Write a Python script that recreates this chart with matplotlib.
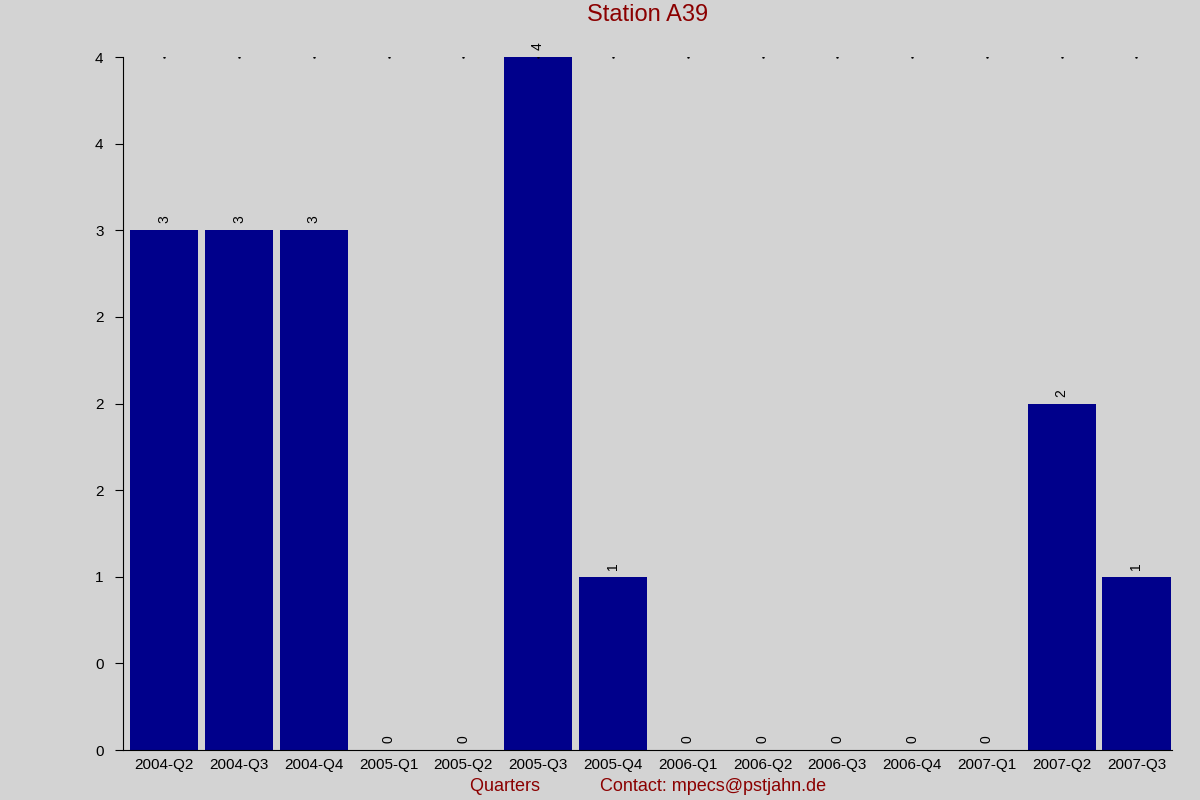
import matplotlib
matplotlib.use("Agg")
import matplotlib.pyplot as plt

categories = ["2004-Q2","2004-Q3","2004-Q4","2005-Q1","2005-Q2","2005-Q3","2005-Q4",
              "2006-Q1","2006-Q2","2006-Q3","2006-Q4","2007-Q1","2007-Q2","2007-Q3"]
values = [3,3,3,0,0,4,1,0,0,0,0,0,2,1]

plt.rcParams['font.family'] = ['Liberation Sans', 'DejaVu Sans']
bg = '#d3d3d3'
fig = plt.figure(figsize=(12, 8), dpi=100, facecolor=bg)
ax = fig.add_axes([0.1025, 0.0625, 0.8745, 0.866], facecolor=bg)
x = list(range(len(categories)))
ax.bar(x, values, width=0.91, color='#00008B')
for xi, v in zip(x, values):
    ax.text(xi, v + 0.04, str(v), rotation=90, ha='center', va='bottom', fontsize=10)
ax.plot(x, [4]*len(x), linestyle='none', marker='.', markersize=1.5, color='black')
ax.set_xlim(-0.55, 13.48)
ax.set_ylim(0, 4)
yt = [0,0.5,1,1.5,2,2.5,3,3.5,4]
ax.set_yticks(yt)
ax.set_yticklabels([str(round(t)) for t in yt], fontsize=11)
ax.set_xticks(x)
ax.set_xticklabels(categories, fontsize=11)
ax.tick_params(axis='x', length=0, pad=6)
ax.tick_params(axis='y', length=6, pad=8)
for s in ['top', 'right']:
    ax.spines[s].set_visible(False)
ax.set_title("Station A39", color='#8B0000', fontsize=17, pad=26)
ax.set_xlabel("Quarters            Contact: mpecs@pstjahn.de", color='#8B0000', fontsize=13, labelpad=4)
ax.set_ylabel("MPECs by publication date", color='#00008B', fontsize=13, labelpad=75)
fig.savefig("out.png", facecolor=bg)
